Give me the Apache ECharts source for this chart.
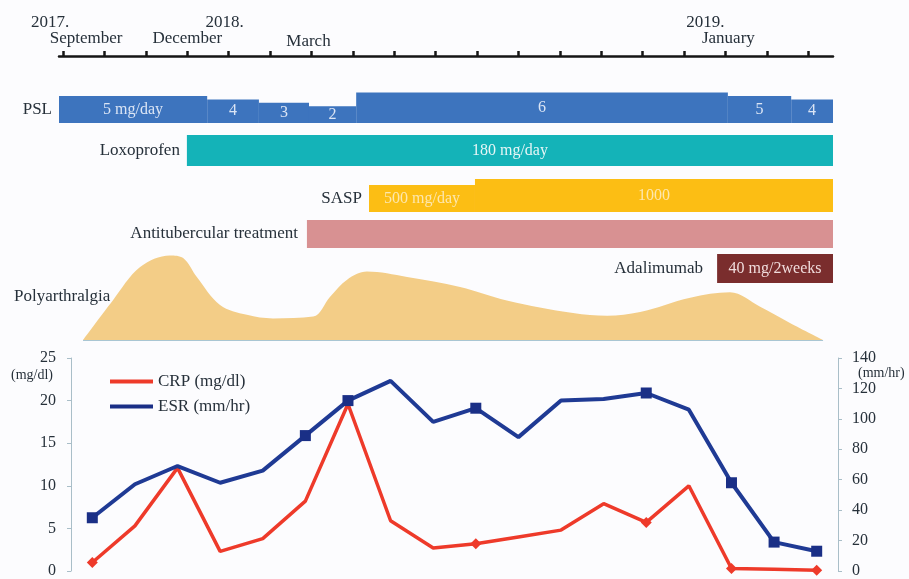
<!DOCTYPE html>
<html><head><meta charset="utf-8">
<script src="https://cdn.jsdelivr.net/npm/echarts@6/dist/echarts.min.js"></script>
<style>html,body{margin:0;padding:0;background:#fcfcfe}#c{width:909px;height:579px}</style>
</head><body><div id="c"></div>
<script>
// ---------- DATA ----------
// Timeline, in months counted from September 2017 (0) to March 2019 (18)
const monthTicks = [0,1,2,3,4,5,6,7,8,9,10,11,12,13,14,15,16,17,18];
const labelMonths = [0, 3, 4, 6, 16];
const labelYears  = ['2017.', '', '2018.', '', '2019.'];
const labelNames  = ['September', 'December', '', 'March', 'January'];

// PSL (mg/day)
const pslStart = [-0.1, 3.48, 4.73, 5.94, 7.08, 16.06, 17.59];
const pslEnd   = [3.48, 4.73, 5.94, 7.08, 16.06, 17.59, 18.6];
const pslDose  = [5, 4, 3, 2, 6, 5, 4];
const pslText  = ['5 mg/day', '4', '3', '2', '6', '5', '4'];
// Loxoprofen
const loxoStart = [2.99]; const loxoEnd = [18.6]; const loxoDose = [180]; const loxoText = ['180 mg/day'];
// SASP
const saspStart = [7.39, 9.95]; const saspEnd = [9.95, 18.6]; const saspDose = [500, 1000]; const saspText = ['500 mg/day', '1000'];
// Antitubercular treatment
const antiStart = [5.89]; const antiEnd = [18.6]; const antiDose = [0]; const antiText = [''];
// Adalimumab
const adaStart = [15.8]; const adaEnd = [18.6]; const adaDose = [40]; const adaText = ['40 mg/2weeks'];

// Polyarthralgia intensity (relative)
const paMonth = [0.48, 1.20, 1.86, 2.58, 2.90, 3.23, 3.79, 4.44, 5.07, 6.04, 6.45, 6.86, 7.34, 8.31, 9.59, 10.72, 12.32, 13.14, 13.94, 15.15, 16.11, 16.84, 17.56, 18.36];
const paLevel = [0, 44, 81, 94, 91, 70, 39, 28, 24, 26, 48, 67, 76, 70, 59, 44, 30, 27, 31, 47, 53, 37, 19, 0];

// Laboratory values
const visits = ['1','2','3','4','5','6','7','8','9','10','11','12','13','14','15','16','17','18'];
const crp = [1.0, 5.3, 12.1, 2.3, 3.8, 8.2, 19.6, 5.9, 2.7, 3.2, 4.0, 4.8, 7.9, 5.7, 10.0, 0.3, 0.2, 0.1];
const esr = [35, 57, 69, 58, 66, 89, 112, 125, 98, 107, 88, 112, 113, 117, 106, 58, 19, 13];
const crpMarked = [0, 9, 13, 15, 17];
const esrMarked = [0, 5, 6, 9, 13, 15, 16, 17];

// ---------- STYLE / LAYOUT ----------
const SERIF = '"Liberation Serif", "Times New Roman", serif';
const TXT = '#26303a';
const ROWS = {
  psl:  { bottom: 67,  height: d => 10 + 3.4 * d, gap: 7 },
  loxo: { bottom: 110, height: () => 31, gap: 7 },
  sasp: { bottom: 156, height: d => 21 + 0.012 * d, gap: 7 },
  anti: { bottom: 192, height: () => 28, gap: 9 },
  ada:  { bottom: 227, height: () => 29, gap: 14 }
};

function gantt(name, starts, ends, doses, texts, row, color, textColor) {
  return {
    type: 'custom', name: name, xAxisIndex: 0, yAxisIndex: 0, clip: false, silent: true,
    encode: { x: [0, 1] },
    data: starts.map((s, i) => [s, ends[i], doses[i]]),
    renderItem: function (params, api) {
      const i = params.dataIndex;
      const s = api.value(0), e = api.value(1), d = api.value(2);
      const h = row.height(d);
      const p1 = api.coord([s, row.bottom - h]);
      const p2 = api.coord([e, row.bottom]);
      const cy = (p1[1] + p2[1]) / 2;
      const children = [{
        type: 'rect',
        shape: { x: p1[0], y: p1[1], width: p2[0] - p1[0], height: p2[1] - p1[1] },
        style: { fill: color }
      }];
      if (texts[i]) children.push({
        type: 'text',
        style: { text: texts[i], x: (p1[0] + p2[0]) / 2, y: cy, align: 'center', verticalAlign: 'middle',
                 fill: textColor, fontSize: 16, fontFamily: SERIF }
      });
      if (i === 0) children.push({
        type: 'text',
        style: { text: name, x: p1[0] - row.gap, y: cy, align: 'right', verticalAlign: 'middle',
                 fill: TXT, fontSize: 17, fontFamily: SERIF }
      });
      return { type: 'group', children: children };
    }
  };
}

const chart = echarts.init(document.getElementById('c'));
chart.setOption({
  backgroundColor: '#fcfcfe',
  animation: false,
  textStyle: { fontFamily: SERIF },
  grid: [
    { left: 59, right: 76, top: 56, height: 286 },
    { left: 59, right: 76, top: 250, height: 90 },
    { left: 71, right: 71, top: 358, bottom: 5 }
  ],
  xAxis: [
    {
      gridIndex: 0, type: 'value', position: 'top', min: -0.1, max: 18.6,
      splitLine: { show: false },
      axisLine: { show: true, onZero: false, lineStyle: { color: '#151515', width: 2.5 } },
      axisTick: { show: true, customValues: monthTicks, length: 5, lineStyle: { color: '#151515', width: 2.5 } },
      axisLabel: {
        show: true, customValues: labelMonths, margin: 9, color: TXT, fontFamily: SERIF, fontSize: 17,
        formatter: function (v) {
          const i = labelMonths.indexOf(Math.round(v));
          if (i < 0) return '';
          const y = labelYears[i], m = labelNames[i];
          if (y && m) return '{y' + i + '|' + y + '}\n{m' + i + '|' + m + '}';
          if (y) return '{y' + i + '|' + y + '}\n{sp| }';
          return '{m' + i + '|' + m + '}';
        },
        rich: {
          y0: { fontSize: 17, fontFamily: SERIF, color: TXT, lineHeight: 16, padding: [0, 26, 0, 0] },
          m0: { fontSize: 17, fontFamily: SERIF, color: TXT, lineHeight: 16, padding: [0, 0, 0, 46] },
          m1: { fontSize: 17, fontFamily: SERIF, color: TXT, lineHeight: 16 },
          y2: { fontSize: 17, fontFamily: SERIF, color: TXT, lineHeight: 16, padding: [0, 8, 0, 0] },
          m3: { fontSize: 17, fontFamily: SERIF, color: TXT, lineHeight: 10, padding: [0, 6, 0, 0] },
          y4: { fontSize: 17, fontFamily: SERIF, color: TXT, lineHeight: 16, padding: [0, 40, 0, 0] },
          m4: { fontSize: 17, fontFamily: SERIF, color: TXT, lineHeight: 16, padding: [0, 0, 0, 6] },
          sp: { fontSize: 17, lineHeight: 16 }
        }
      }
    },
    { gridIndex: 1, type: 'value', min: -0.1, max: 18.6, show: false },
    { gridIndex: 2, type: 'category', data: visits, boundaryGap: true, show: false }
  ],
  yAxis: [
    { gridIndex: 0, type: 'value', min: 0, max: 286, inverse: true, show: false },
    { gridIndex: 1, type: 'value', min: 0, max: 100, show: false },
    {
      gridIndex: 2, type: 'value', position: 'left', min: 0, max: 25, interval: 5,
      name: '(mg/dl)', nameLocation: 'end', nameGap: -17,
      nameTextStyle: { align: 'right', verticalAlign: 'middle', padding: [0, 18, 0, 0], fontSize: 14, color: TXT, fontFamily: SERIF },
      splitLine: { show: false },
      axisLine: { show: true, lineStyle: { color: '#a9bec8', width: 1 } },
      axisTick: { show: true, length: 4, lineStyle: { color: '#a9bec8' } },
      axisLabel: { margin: 15, color: TXT, fontSize: 16, fontFamily: SERIF }
    },
    {
      gridIndex: 2, type: 'value', position: 'right', min: 0, max: 140, interval: 20,
      name: '(mm/hr)', nameLocation: 'end', nameGap: -16,
      nameTextStyle: { align: 'left', verticalAlign: 'middle', padding: [0, 0, 0, 20], fontSize: 14, color: TXT, fontFamily: SERIF },
      splitLine: { show: false },
      axisLine: { show: true, lineStyle: { color: '#a9bec8', width: 1 } },
      axisTick: { show: true, length: 4, lineStyle: { color: '#a9bec8' } },
      axisLabel: { margin: 14, color: TXT, fontSize: 16, fontFamily: SERIF }
    }
  ],
  legend: {
    orient: 'vertical', left: 105, top: 368, itemWidth: 43, itemHeight: 4, itemGap: 8, icon: 'rect',
    data: ['CRP (mg/dl)', 'ESR (mm/hr)'],
    textStyle: { fontSize: 17, color: TXT, fontFamily: SERIF }
  },
  graphic: [{
    type: 'text', left: 14, top: 288, z: 100,
    style: { text: 'Polyarthralgia', fontSize: 17, fontFamily: SERIF, fill: TXT }
  }],
  series: [
    gantt('PSL', pslStart, pslEnd, pslDose, pslText, ROWS.psl, '#3d74be', '#dbe5f5'),
    gantt('Loxoprofen', loxoStart, loxoEnd, loxoDose, loxoText, ROWS.loxo, '#14b3b8', '#e6f6f6'),
    gantt('SASP', saspStart, saspEnd, saspDose, saspText, ROWS.sasp, '#fcbe14', '#fde7ae'),
    gantt('Antitubercular treatment', antiStart, antiEnd, antiDose, antiText, ROWS.anti, '#d89192', '#fff'),
    gantt('Adalimumab', adaStart, adaEnd, adaDose, adaText, ROWS.ada, '#7a2d2d', '#f0dcdc'),
    {
      type: 'line', name: 'Polyarthralgia', xAxisIndex: 1, yAxisIndex: 1, silent: true,
      data: paMonth.map((m, i) => [m, paLevel[i]]),
      smooth: 0.35, symbol: 'none',
      lineStyle: { width: 0, opacity: 0 },
      areaStyle: { color: '#f3cd87', opacity: 1 },
      markLine: {
        silent: true, symbol: 'none', label: { show: false },
        lineStyle: { color: '#a9c6d3', width: 1, type: 'solid' },
        data: [[{ coord: [paMonth[0], 0] }, { coord: [paMonth[paMonth.length - 1], 0] }]]
      }
    },
    {
      type: 'line', name: 'CRP (mg/dl)', xAxisIndex: 2, yAxisIndex: 2, data: crp,
      color: '#ee3a2a',
      lineStyle: { width: 3.5, color: '#ee3a2a' },
      symbol: (v, p) => crpMarked.includes(p.dataIndex) ? 'diamond' : 'none',
      symbolSize: 11, showAllSymbol: true,
      itemStyle: { color: '#ee3a2a' }
    },
    {
      type: 'line', name: 'ESR (mm/hr)', xAxisIndex: 2, yAxisIndex: 3, data: esr,
      color: '#1f3a94',
      lineStyle: { width: 4, color: '#1f3a94' },
      symbol: (v, p) => esrMarked.includes(p.dataIndex) ? 'rect' : 'none',
      symbolSize: 11, showAllSymbol: true,
      itemStyle: { color: '#1a2f86' }
    }
  ]
});
</script>
</body></html>
